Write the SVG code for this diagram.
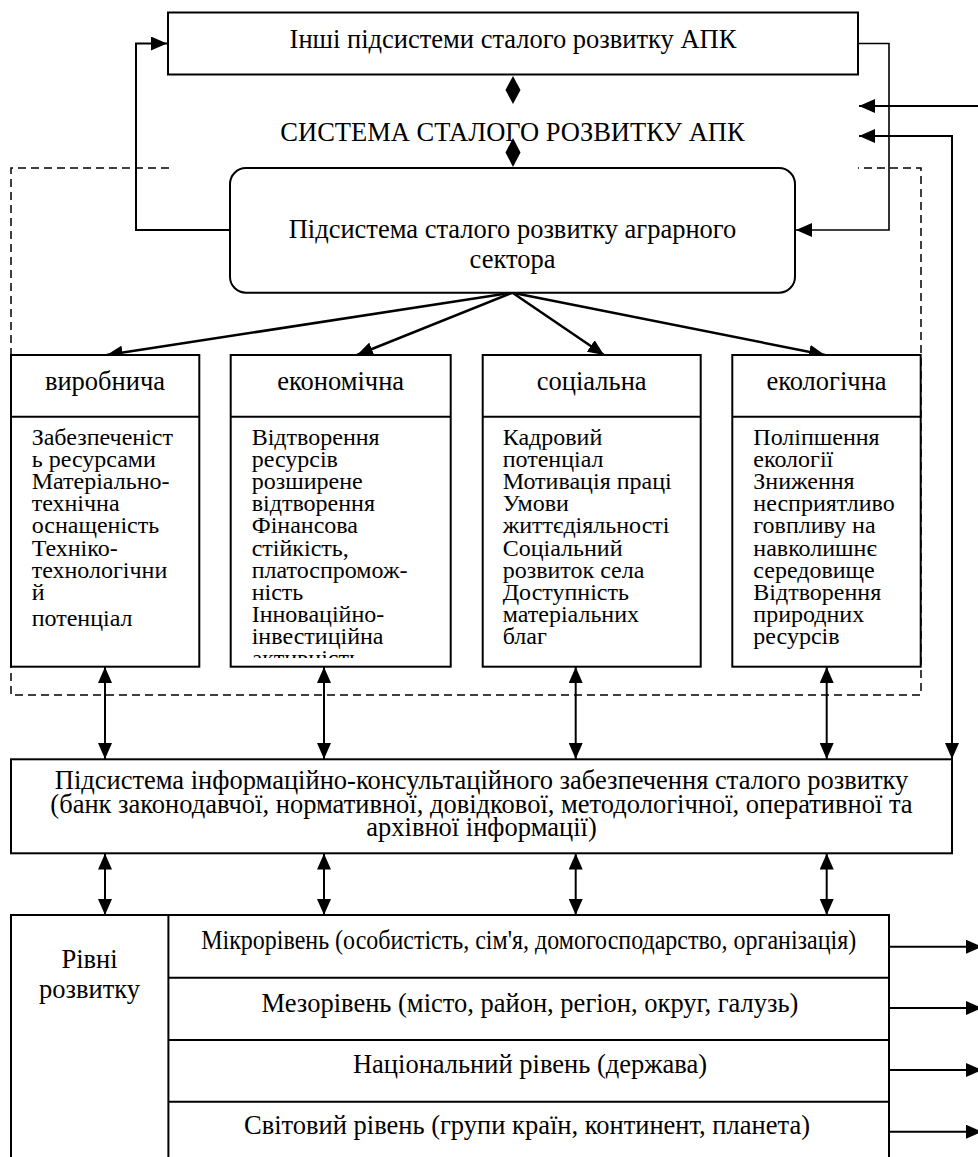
<svg xmlns="http://www.w3.org/2000/svg" width="978" height="1157" viewBox="0 0 978 1157">
<style>
.box{fill:#fff;stroke:#000;stroke-width:2}
.ln{fill:none;stroke:#000;stroke-width:2}
.thin{fill:none;stroke:#000;stroke-width:1.6}
.dash{fill:none;stroke:#000;stroke-width:1.5;stroke-dasharray:8,5}
.t{font-family:"Liberation Serif","Times New Roman",serif;font-size:26.5px;fill:#000}
.c{font-family:"Liberation Serif","Times New Roman",serif;font-size:24px;fill:#000}
.m{text-anchor:middle}
</style>
<defs>
<marker id="arr" markerUnits="userSpaceOnUse" markerWidth="16" markerHeight="14" refX="16" refY="7" orient="auto-start-reverse">
<path d="M0,0 L16,7 L0,14 z" fill="#000"/>
</marker>
<clipPath id="clip2"><rect x="232" y="418" width="218" height="240"/></clipPath>
</defs>

<g id="connectors">
<path class="dash" d="M169,168 H11 V695 H921 V168 H858"/>
<path class="ln" d="M230,230 H136 V43.5 H167" marker-end="url(#arr)"/>
<path class="thin" d="M858,43.5 H889 V230 H796" marker-end="url(#arr)"/>
<path class="ln" d="M980,106 H859" marker-end="url(#arr)"/>
<path class="ln" d="M952,759 V136 H859" marker-end="url(#arr)" marker-start="url(#arr)"/>
<polygon points="513,76 520.5,90 513,104 505.5,90" fill="#000"/>
<polygon points="513,138 520.5,152.5 513,167 505.5,152.5" fill="#000"/>
<path class="ln" style="stroke-width:2.5" d="M512.5,292.7 L106.7,355" marker-end="url(#arr)"/>
<path class="ln" style="stroke-width:2.5" d="M512.5,292.7 L357,355" marker-end="url(#arr)"/>
<path class="ln" style="stroke-width:2.5" d="M512.5,292.7 L604,355" marker-end="url(#arr)"/>
<path class="ln" style="stroke-width:2.5" d="M512.5,292.7 L825,355" marker-end="url(#arr)"/>
<path class="ln" d="M105,667 V759" marker-start="url(#arr)" marker-end="url(#arr)"/>
<path class="ln" d="M324,667 V759" marker-start="url(#arr)" marker-end="url(#arr)"/>
<path class="ln" d="M575.7,667 V759" marker-start="url(#arr)" marker-end="url(#arr)"/>
<path class="ln" d="M826.7,667 V759" marker-start="url(#arr)" marker-end="url(#arr)"/>
<path class="ln" d="M105,853.5 V915" marker-start="url(#arr)" marker-end="url(#arr)"/>
<path class="ln" d="M324,853.5 V915" marker-start="url(#arr)" marker-end="url(#arr)"/>
<path class="ln" d="M575.7,853.5 V915" marker-start="url(#arr)" marker-end="url(#arr)"/>
<path class="ln" d="M826.7,853.5 V915" marker-start="url(#arr)" marker-end="url(#arr)"/>
<path class="ln" d="M889,946.7 H982" marker-end="url(#arr)"/>
<path class="ln" d="M889,1008 H982" marker-end="url(#arr)"/>
<path class="ln" d="M889,1070 H982" marker-end="url(#arr)"/>
<path class="ln" d="M889,1131.7 H982" marker-end="url(#arr)"/>
</g>

<g id="node-other">
<rect class="box" x="168" y="12.5" width="690" height="62"/>
<text class="t m" x="513" y="48">Інші підсистеми сталого розвитку АПК</text>
</g>

<g id="node-system-title">
<text class="t m" x="512.5" y="141">СИСТЕМА СТАЛОГО РОЗВИТКУ АПК</text>
</g>

<g id="node-agrarian">
<rect class="box" x="230" y="168" width="565" height="124.7" rx="16" ry="16"/>
<text class="t m" x="512.5" y="238">Підсистема сталого розвитку аграрного</text>
<text class="t m" x="512.5" y="268">сектора</text>
</g>

<g id="node-production">
<rect class="box" x="11" y="355" width="188.3" height="311.7"/>
<line class="ln" x1="11" y1="416.7" x2="199.3" y2="416.7"/>
<text class="t m" x="105" y="390">виробнича</text>
<text class="c" x="31.7" y="445">
<tspan x="31.7" dy="0">Забезпеченіст</tspan>
<tspan x="31.7" dy="22.1">ь ресурсами</tspan>
<tspan x="31.7" dy="22.1">Матеріально-</tspan>
<tspan x="31.7" dy="22.1">технічна</tspan>
<tspan x="31.7" dy="22.1">оснащеність</tspan>
<tspan x="31.7" dy="22.1">Техніко-</tspan>
<tspan x="31.7" dy="22.1">технологічни</tspan>
<tspan x="31.7" dy="22.1">й</tspan>
<tspan x="31.7" dy="26.7">потенціал</tspan>
</text>
</g>

<g id="node-economic">
<rect class="box" x="230.7" y="355" width="220" height="311.7"/>
<line class="ln" x1="230.7" y1="416.7" x2="450.7" y2="416.7"/>
<text class="t m" x="340.7" y="390">економічна</text>
<text class="c" x="251.7" y="445" clip-path="url(#clip2)">
<tspan x="251.7" dy="0">Відтворення</tspan>
<tspan x="251.7" dy="22.1">ресурсів</tspan>
<tspan x="251.7" dy="22.1">розширене</tspan>
<tspan x="251.7" dy="22.1">відтворення</tspan>
<tspan x="251.7" dy="22.1">Фінансова</tspan>
<tspan x="251.7" dy="22.1">стійкість,</tspan>
<tspan x="251.7" dy="22.1">платоспромож-</tspan>
<tspan x="251.7" dy="22.1">ність</tspan>
<tspan x="251.7" dy="22.1">Інноваційно-</tspan>
<tspan x="251.7" dy="22.1">інвестиційна</tspan>
<tspan x="251.7" dy="22.1">активність</tspan>
</text>
</g>

<g id="node-social">
<rect class="box" x="482.7" y="355" width="218" height="311.7"/>
<line class="ln" x1="482.7" y1="416.7" x2="700.7" y2="416.7"/>
<text class="t m" x="591.7" y="390">соціальна</text>
<text class="c" x="502.7" y="445">
<tspan x="502.7" dy="0">Кадровий</tspan>
<tspan x="502.7" dy="22.1">потенціал</tspan>
<tspan x="502.7" dy="22.1">Мотивація праці</tspan>
<tspan x="502.7" dy="22.1">Умови</tspan>
<tspan x="502.7" dy="22.1">життєдіяльності</tspan>
<tspan x="502.7" dy="22.1">Соціальний</tspan>
<tspan x="502.7" dy="22.1">розвиток села</tspan>
<tspan x="502.7" dy="22.1">Доступність</tspan>
<tspan x="502.7" dy="22.1">матеріальних</tspan>
<tspan x="502.7" dy="22.1">благ</tspan>
</text>
</g>

<g id="node-ecological">
<rect class="box" x="732.3" y="355" width="188.4" height="311.7"/>
<line class="ln" x1="732.3" y1="416.7" x2="920.7" y2="416.7"/>
<text class="t m" x="826.5" y="390">екологічна</text>
<text class="c" x="753.3" y="445">
<tspan x="753.3" dy="0">Поліпшення</tspan>
<tspan x="753.3" dy="22.1">екології</tspan>
<tspan x="753.3" dy="22.1">Зниження</tspan>
<tspan x="753.3" dy="22.1">несприятливо</tspan>
<tspan x="753.3" dy="22.1">говпливу на</tspan>
<tspan x="753.3" dy="22.1">навколишнє</tspan>
<tspan x="753.3" dy="22.1">середовище</tspan>
<tspan x="753.3" dy="22.1">Відтворення</tspan>
<tspan x="753.3" dy="22.1">природних</tspan>
<tspan x="753.3" dy="22.1">ресурсів</tspan>
</text>
</g>

<g id="node-info">
<rect class="box" x="11" y="759.3" width="941" height="94"/>
<text class="t m" x="481.5" y="789">Підсистема інформаційно-консультаційного забезпечення сталого розвитку</text>
<text class="t m" x="481.5" y="812.5">(банк законодавчої, нормативної, довідкової, методологічної, оперативної та</text>
<text class="t m" x="481.5" y="836">архівної інформації)</text>
</g>

<g id="node-levels">
<rect class="box" x="11" y="915" width="878" height="260"/>
<line class="ln" x1="168.4" y1="915" x2="168.4" y2="1160"/>
<line class="ln" x1="168.4" y1="977.7" x2="889" y2="977.7"/>
<line class="ln" x1="168.4" y1="1040" x2="889" y2="1040"/>
<line class="ln" x1="168.4" y1="1101.7" x2="889" y2="1101.7"/>
<text class="t m" x="89.5" y="968">Рівні</text>
<text class="t m" x="89.5" y="998">розвитку</text>
<text class="t m" x="528.7" y="949" textLength="655" lengthAdjust="spacingAndGlyphs">Мікрорівень (особистість, сім'я, домогосподарство, організація)</text>
<text class="t m" x="530" y="1011.5">Мезорівень (місто, район, регіон, округ, галузь)</text>
<text class="t m" x="530" y="1073">Національний рівень (держава)</text>
<text class="t m" x="527" y="1134">Світовий рівень (групи країн, континент, планета)</text>
</g>
</svg>
